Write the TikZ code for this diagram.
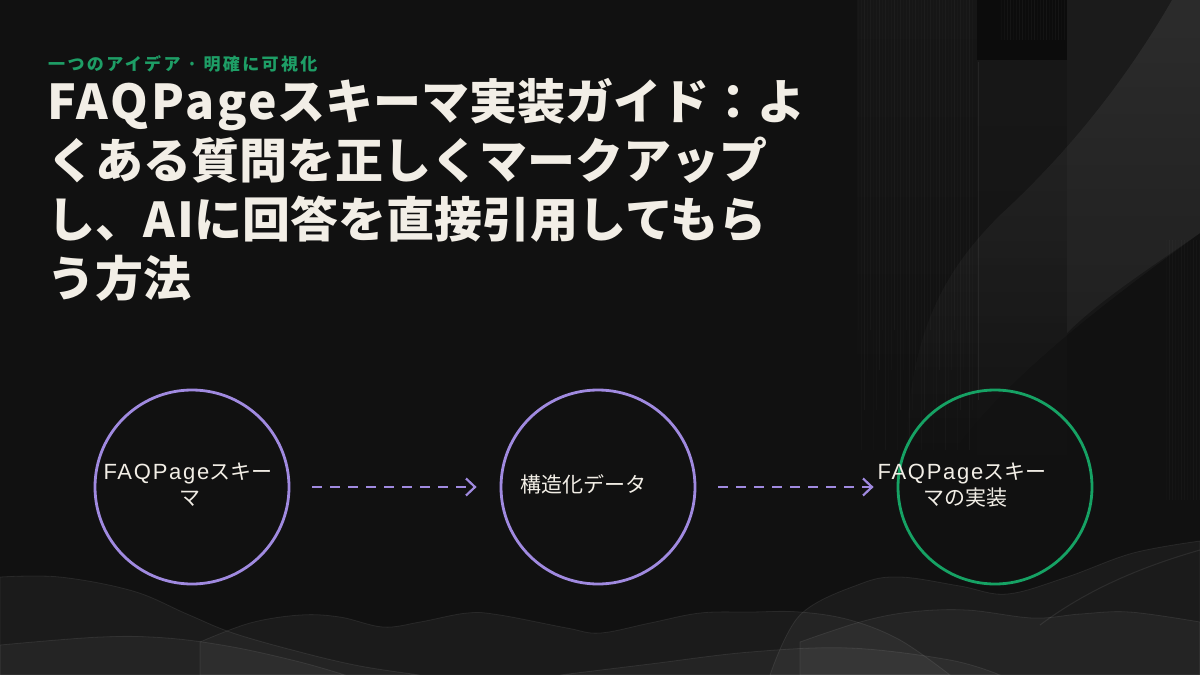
\documentclass[tikz,border=0pt]{standalone}
\usepackage{fontspec}
\setmainfont{Noto Sans CJK JP}
\newfontfamily\jp{Noto Sans CJK JP}
\newfontfamily\jpsub{Noto Sans CJK JP}[LetterSpace=14]
\newfontfamily\latw{Noto Sans CJK JP}[LetterSpace=6]
\newfontfamily\lat{Liberation Sans}[LetterSpace=8]
\usetikzlibrary{arrows.meta,fadings}
\definecolor{bg}{HTML}{111111}
\definecolor{ink}{HTML}{F2EEE6}
\definecolor{lav}{HTML}{A08AE0}
\definecolor{grn}{HTML}{16A264}
\definecolor{subgrn}{HTML}{1E9E66}
\definecolor{panelA}{HTML}{1B1B1B}
\definecolor{panelB}{HTML}{181818}
\definecolor{darkblk}{HTML}{0C0C0C}
\tikzfading[name=fadedown, top color=transparent!0, bottom color=transparent!100]
\tikzset{
  title/.style={inner sep=0pt, text=ink, font=\jp\bfseries\fontsize{48}{58}\selectfont},
  subtitle/.style={inner sep=0pt, text=subgrn, font=\jpsub\bfseries\fontsize{17}{20}\selectfont},
  lbl/.style={inner sep=0pt, text=ink, font=\jp\fontsize{21}{26}\selectfont},
  ring/.style={circle, line width=2.8pt, minimum size=194pt, inner sep=0pt},
  flow/.style={draw=lav, line width=2.2pt, dash pattern=on 10pt off 8pt,
    -{Straight Barb[length=9pt,width=17pt,line width=2.2pt]}, shorten <=22pt, shorten >=23pt},
  hill/.style={fill=white, fill opacity=0.045, draw=white, draw opacity=0.08, line width=0.8pt},
  stripe/.style={white, line width=0.7pt}
}
\newcommand{\faq}{{\lat\fontsize{22}{26}\selectfont FAQPage}}
\begin{document}
\begin{tikzpicture}[x=1pt,y=-1pt]
\useasboundingbox (0,0) rectangle (1200,675);
\fill[bg] (0,0) rectangle (1200,675);

% ---- right decorative panels ----
\fill[white, opacity=0.025, path fading=fadedown] (857,0) rectangle (977,470);
\foreach \i [evaluate=\i as \op using {0.012+0.018*mod(\i*7,5)/4},
             evaluate=\i as \len using {330+120*mod(\i*3,4)/3}] in {0,...,38} {
  \draw[stripe, opacity=\op] (858+3*\i,0) -- (858+3*\i,\len);
}
\fill[darkblk] (977,0) rectangle (1067,60);
\foreach \i [evaluate=\i as \op using {0.02+0.02*mod(\i*5,4)/3}] in {0,...,21} {
  \draw[stripe, opacity=\op] (1001+3*\i,0) -- (1001+3*\i,40);
}
\fill[panelB, path fading=fadedown] (977,60) rectangle (1067,520);
\draw[white, opacity=0.06, line width=1pt] (978,62) -- (978,400);
\fill[panelA] (1067,0) -- (1200,0) -- (1200,233)
  .. controls (1150,268) and (1100,300) .. (1067,333) -- cycle;
\foreach \i [evaluate=\i as \op using {0.012+0.015*mod(\i*3,4)/3}] in {0,...,11} {
  \draw[stripe, opacity=\op] (1166+3*\i,240) -- (1166+3*\i,500);
}
% swoosh band
\fill[white, opacity=0.075, path fading=fadedown]
  (1172,0) .. controls (1120,90) and (1060,160) .. (1000,215)
  .. controls (940,275) and (905,340) .. (905,480)
  -- (935,480)
  .. controls (980,400) and (1080,320) .. (1200,233) -- (1200,0) -- cycle;

% ---- bottom hills ----
\path[hill] plot[smooth, tension=0.6] coordinates
  {(770,675) (800,615) (860,584) (900,577) (960,586) (1007,594) (1067,577) (1133,553) (1200,541)}
  -- (1200,675) -- cycle;
\path[hill] plot[smooth, tension=0.6] coordinates
  {(0,577) (60,577) (133,591) (187,614) (233,633) (300,652) (360,666) (420,675)}
  -- (0,675) -- cycle;
\path[hill] plot[smooth, tension=0.6] coordinates
  {(200,642) (250,623) (300,615) (340,617) (383,627) (420,622) (467,613) (500,615)
   (567,628) (600,633) (650,623) (700,613) (750,612) (800,612) (850,620) (900,640) (950,675)}
  -- (200,675) -- cycle;
\path[hill] plot[smooth, tension=0.6] coordinates
  {(0,645) (100,637) (167,638) (233,647) (300,662) (345,675)}
  -- (0,675) -- cycle;
\path[hill] plot[smooth, tension=0.6] coordinates
  {(800,642) (860,622) (910,612) (967,610) (1033,618) (1080,614) (1130,612) (1200,622)}
  -- (1200,675) -- (800,675) -- cycle;
\path[hill] plot[smooth, tension=0.6] coordinates
  {(560,675) (650,664) (750,652) (850,648) (950,660) (1000,675)}
  -- cycle;
\draw[white, opacity=0.08, line width=1pt] (1040,625) .. controls (1080,595) and (1130,570) .. (1200,550);

% ---- texts ----
\node[subtitle, anchor=base west] (sub) at (48,70) {一つのアイデア · 明確に可視化};
\node[title, anchor=base west] (t1) at (47,119) {{\latw\bfseries FAQPage}スキーマ実装ガイド：よ};
\node[title, anchor=base west] (t2) at (47,178) {くある質問を正しくマークアップ};
\node[title, anchor=base west] (t3) at (47,237) {し、{\latw\bfseries AI}に回答を直接引用してもら};
\node[title, anchor=base west] (t4) at (47,296) {う方法};

% ---- flow ----
\node[ring, draw=lav] (c1) at (192,487) {};
\node[ring, draw=lav] (c2) at (598,487) {};
\node[ring, draw=grn] (c3) at (995,487) {};
\draw[flow] (c1) -- (c2);
\draw[flow] (c2) -- (c3);

\node[lbl, anchor=base] (l1a) at (188,479) {\faq スキー};
\node[lbl, anchor=base] (l1b) at (190,505) {マ};
\node[lbl, anchor=base] (l2) at (583,492) {構造化データ};
\node[lbl, anchor=base] (l3a) at (962,479) {\faq スキー};
\node[lbl, anchor=base] (l3b) at (965,505) {マの実装};
\end{tikzpicture}
\end{document}
